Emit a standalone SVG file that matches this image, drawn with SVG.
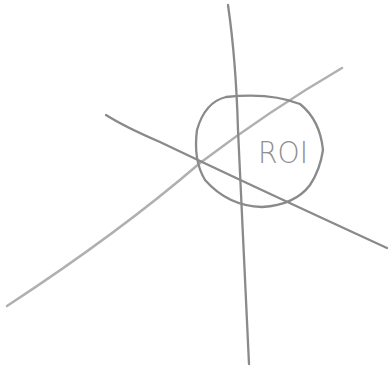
<svg xmlns="http://www.w3.org/2000/svg" width="389" height="370" viewBox="0 0 389 370">
<style>
.ln{fill:none;stroke-linecap:round;stroke-linejoin:round}
.dark{stroke:#8a8a8a;stroke-width:2.3}
.light{stroke:#b0b0b0;stroke-width:2.5}
.lbl{font-family:"DejaVu Sans",Arial,sans-serif;font-size:31px;font-weight:300;fill:#8f8f8f}
</style>
<rect width="389" height="370" fill="#fff"/>
<g id="connectors">
<path class="ln light" d="M7,306 Q120,232 200,163 Q270,110 342,68"/>
<path class="ln dark" d="M106,115 Q125,127 160,142 Q250,185 387,248"/>
<path class="ln dark" d="M228,5 Q236,60 238,130 Q243,230 249,364"/>
</g>
<g id="roi">
<path class="ln dark" d="M226,97 Q270,92 300,104 Q320,120 323,150 Q320,170 310,185 Q295,205 262,207 Q228,206 205,180 Q193,160 197,130 Q205,102 226,97 Z"/>
<text class="lbl" x="258" y="163" textLength="50" lengthAdjust="spacingAndGlyphs">ROI</text>
</g>
</svg>
